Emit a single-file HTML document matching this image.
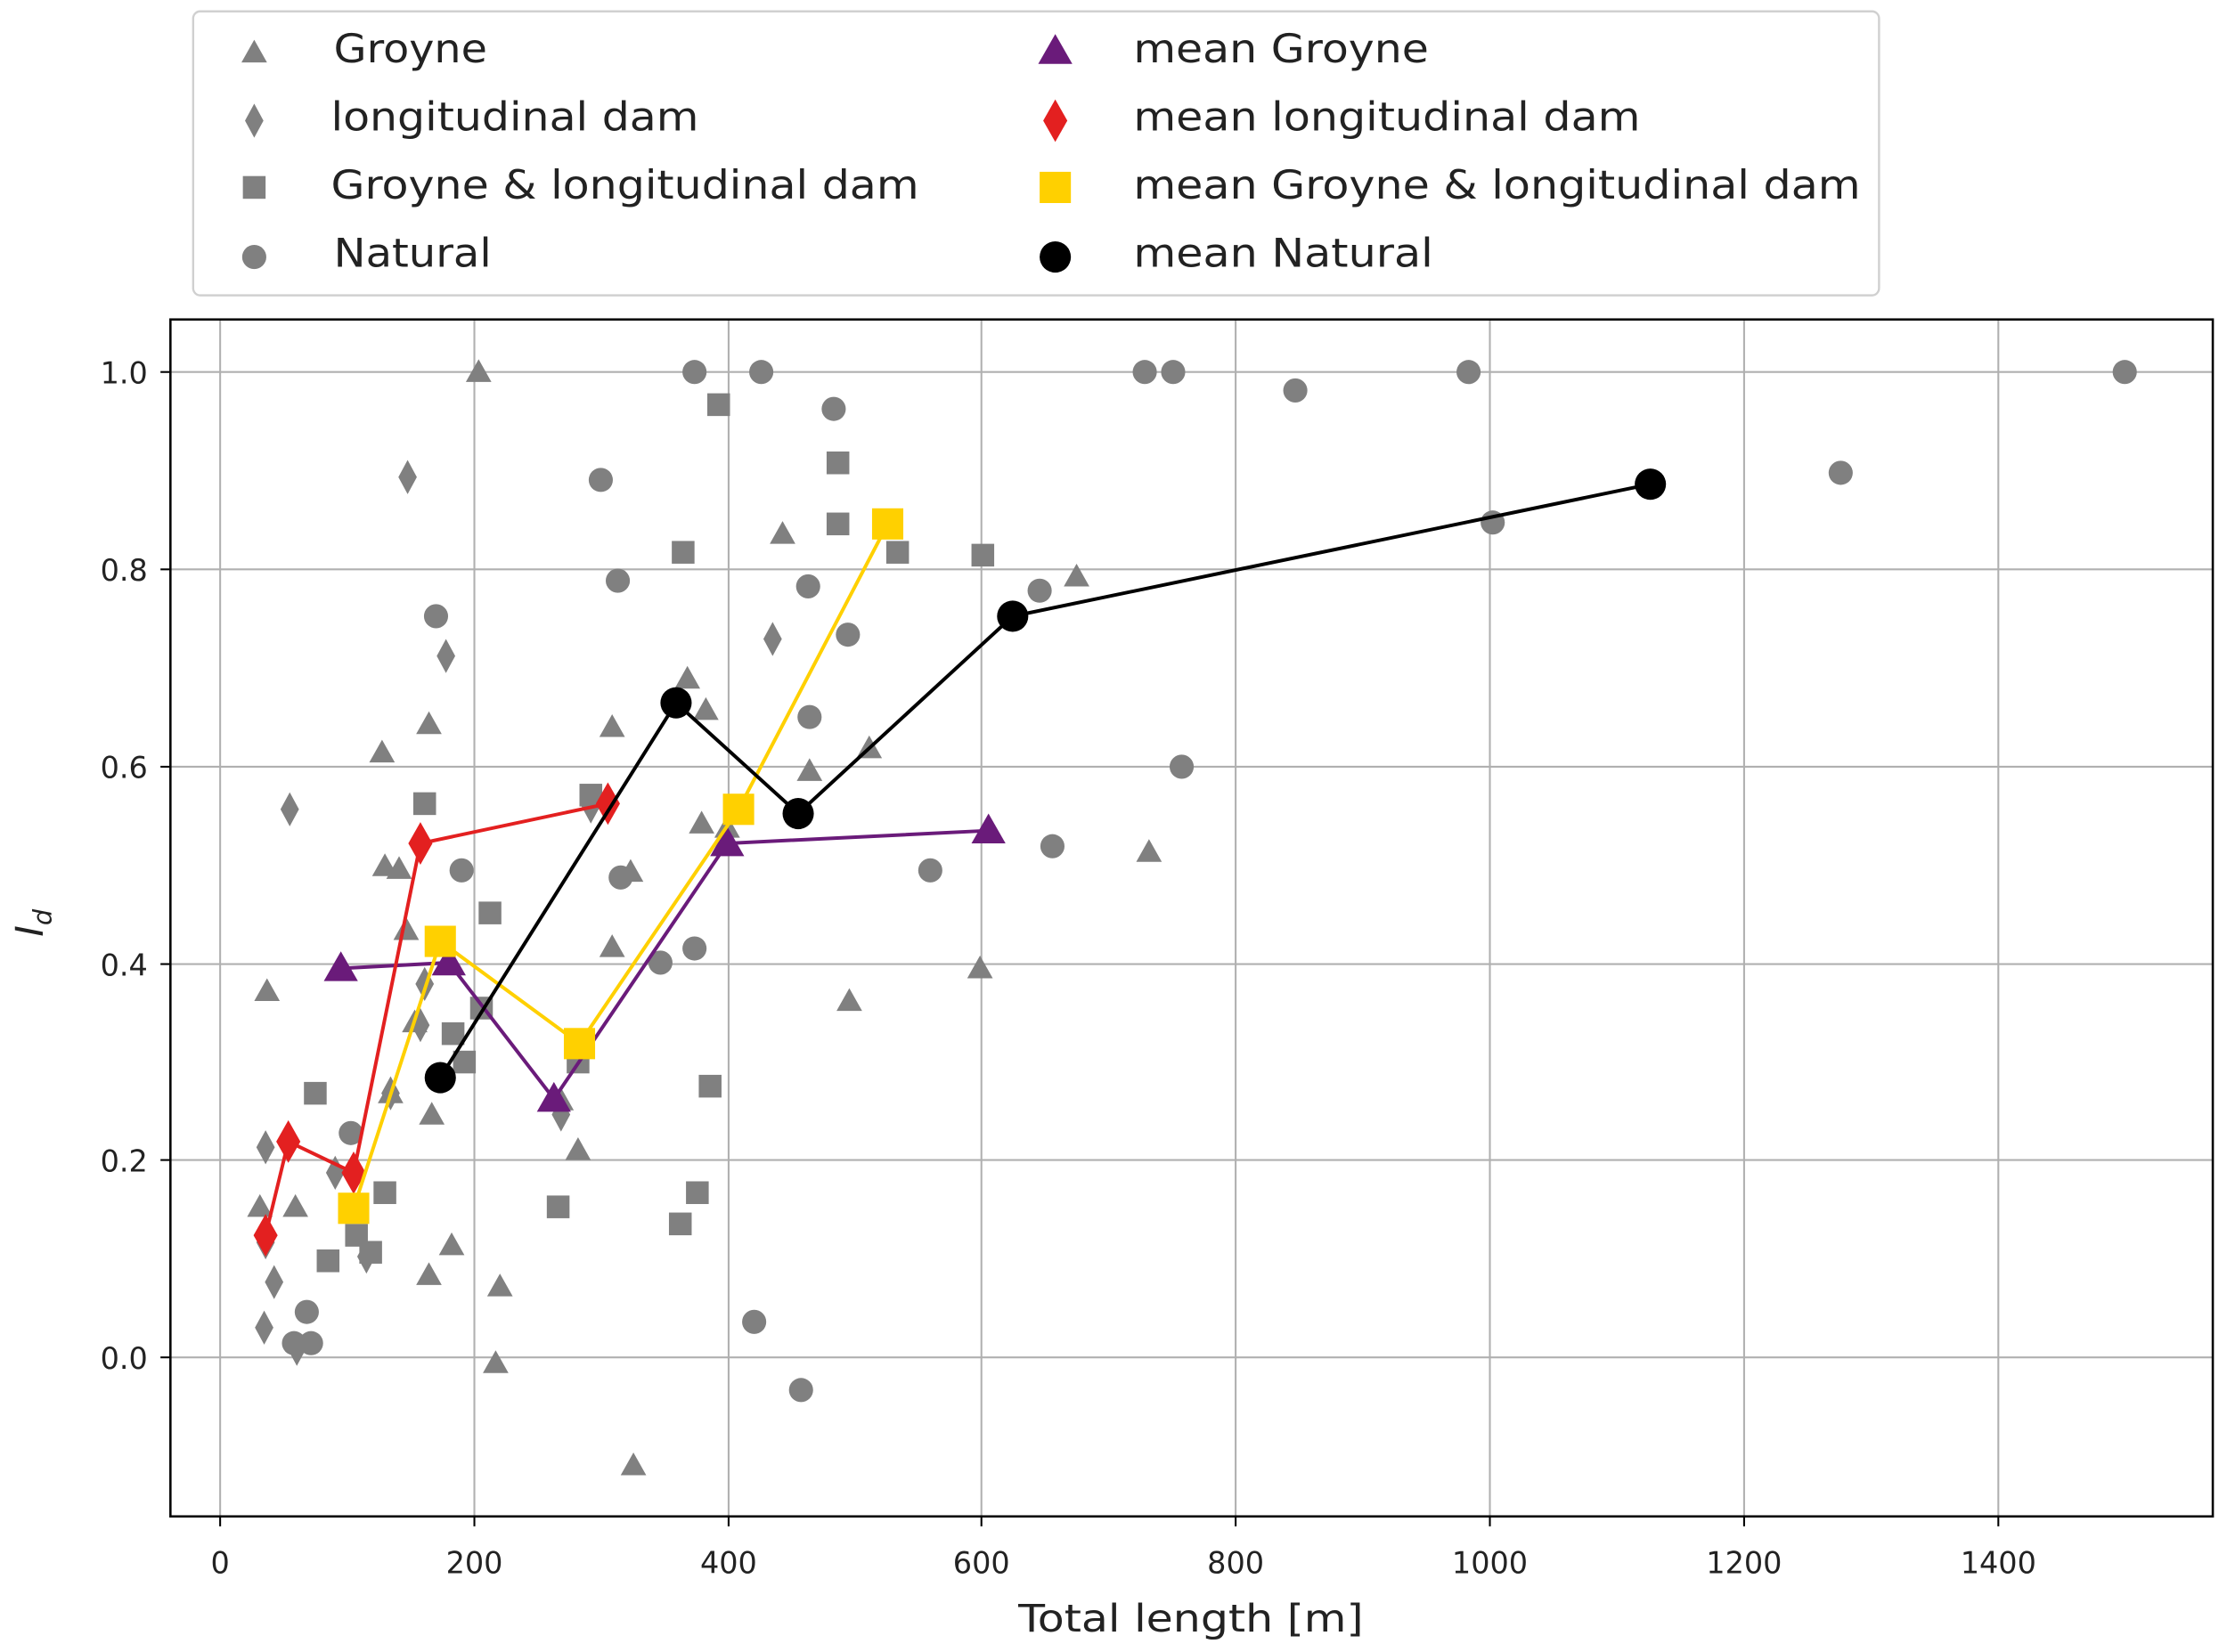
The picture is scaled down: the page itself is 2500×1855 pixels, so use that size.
<!DOCTYPE html>
<html><head><meta charset="utf-8"><style>
html,body{margin:0;padding:0;background:#fff}
svg{display:block}
text{font-family:"DejaVu Sans","Liberation Sans",sans-serif;fill:#222}
</style></head><body>
<svg width="2500" height="1855" viewBox="0 0 1568 1163.5" preserveAspectRatio="none">
<defs>
<g id="tri"><polygon points="0,-9 9,7 -9,7"/></g>
<g id="dia"><polygon points="0,-12 6.5,0 0,12 -6.5,0"/></g>
<g id="sq"><rect x="-8" y="-8" width="16" height="16"/></g>
<g id="ci"><circle r="8.5"/></g>
<g id="Tri"><polygon points="0,-12 12,9 -12,9"/></g>
<g id="Dia"><polygon points="0,-15 8.5,0 0,15 -8.5,0"/></g>
<g id="Sq"><rect x="-11" y="-11" width="22" height="22"/></g>
<g id="Ci"><circle r="11"/></g>
</defs>
<g stroke="#b0b0b0" stroke-width="1.3">
<line x1="155" y1="225" x2="155" y2="1068"/><line x1="334" y1="225" x2="334" y2="1068"/>
<line x1="513" y1="225" x2="513" y2="1068"/><line x1="691" y1="225" x2="691" y2="1068"/>
<line x1="870" y1="225" x2="870" y2="1068"/><line x1="1049" y1="225" x2="1049" y2="1068"/>
<line x1="1228" y1="225" x2="1228" y2="1068"/><line x1="1407" y1="225" x2="1407" y2="1068"/>
<line x1="120" y1="262" x2="1558" y2="262"/><line x1="120" y1="401" x2="1558" y2="401"/>
<line x1="120" y1="540" x2="1558" y2="540"/><line x1="120" y1="679" x2="1558" y2="679"/>
<line x1="120" y1="817" x2="1558" y2="817"/><line x1="120" y1="956" x2="1558" y2="956"/>
</g>
<g fill="#808080">
<use href="#tri" x="337" y="262"/><use href="#tri" x="551" y="376"/><use href="#tri" x="758" y="406"/><use href="#tri" x="484" y="478"/><use href="#tri" x="302" y="510"/><use href="#tri" x="431" y="512"/><use href="#tri" x="269" y="530"/><use href="#tri" x="612" y="527"/><use href="#tri" x="570" y="543"/><use href="#tri" x="497" y="500"/><use href="#tri" x="444" y="614"/><use href="#tri" x="431" y="667"/><use href="#tri" x="809" y="600"/><use href="#tri" x="690" y="682"/><use href="#tri" x="598" y="705"/><use href="#tri" x="188" y="698"/><use href="#tri" x="286" y="655"/><use href="#tri" x="292" y="720"/><use href="#tri" x="275" y="770"/><use href="#tri" x="304" y="785"/><use href="#tri" x="407" y="810"/><use href="#tri" x="318" y="877"/><use href="#tri" x="302" y="898"/><use href="#tri" x="352" y="906"/><use href="#tri" x="349" y="960"/><use href="#tri" x="446" y="1032"/><use href="#tri" x="208" y="850"/><use href="#tri" x="183" y="850"/><use href="#tri" x="494" y="580"/><use href="#tri" x="281" y="612"/><use href="#tri" x="271" y="610"/><use href="#tri" x="395" y="775"/><use href="#tri" x="512" y="583"/>
<use href="#dia" x="287" y="336"/><use href="#dia" x="204" y="570"/><use href="#dia" x="314" y="462"/><use href="#dia" x="544" y="450"/><use href="#dia" x="187" y="808"/><use href="#dia" x="193" y="903"/><use href="#dia" x="186" y="935"/><use href="#dia" x="209" y="950"/><use href="#dia" x="258" y="885"/><use href="#dia" x="236" y="826"/><use href="#dia" x="296" y="722"/><use href="#dia" x="275" y="770"/><use href="#dia" x="395" y="785"/><use href="#dia" x="299" y="693"/><use href="#dia" x="416" y="568"/><use href="#dia" x="187" y="875"/>
<use href="#sq" x="506" y="285"/><use href="#sq" x="590" y="326"/><use href="#sq" x="481" y="389"/><use href="#sq" x="590" y="369"/><use href="#sq" x="632" y="389"/><use href="#sq" x="692" y="391"/><use href="#sq" x="299" y="566"/><use href="#sq" x="345" y="643"/><use href="#sq" x="319" y="728"/><use href="#sq" x="327" y="748"/><use href="#sq" x="416" y="560"/><use href="#sq" x="407" y="748"/><use href="#sq" x="222" y="770"/><use href="#sq" x="500" y="765"/><use href="#sq" x="271" y="840"/><use href="#sq" x="393" y="850"/><use href="#sq" x="491" y="840"/><use href="#sq" x="479" y="862"/><use href="#sq" x="231" y="888"/><use href="#sq" x="261" y="882"/><use href="#sq" x="251" y="870"/><use href="#sq" x="339" y="710"/>
<use href="#ci" x="489" y="262"/><use href="#ci" x="536" y="262"/><use href="#ci" x="587" y="288"/><use href="#ci" x="806" y="262"/><use href="#ci" x="826" y="262"/><use href="#ci" x="912" y="275"/><use href="#ci" x="1034" y="262"/><use href="#ci" x="1496" y="262"/><use href="#ci" x="1296" y="333"/><use href="#ci" x="423" y="338"/><use href="#ci" x="435" y="409"/><use href="#ci" x="569" y="413"/><use href="#ci" x="732" y="416"/><use href="#ci" x="307" y="434"/><use href="#ci" x="597" y="447"/><use href="#ci" x="570" y="505"/><use href="#ci" x="832" y="540"/><use href="#ci" x="325" y="613"/><use href="#ci" x="437" y="618"/><use href="#ci" x="741" y="596"/><use href="#ci" x="655" y="613"/><use href="#ci" x="465" y="678"/><use href="#ci" x="489" y="668"/><use href="#ci" x="247" y="798"/><use href="#ci" x="216" y="924"/><use href="#ci" x="219" y="946"/><use href="#ci" x="207" y="946"/><use href="#ci" x="531" y="931"/><use href="#ci" x="564" y="979"/><use href="#ci" x="1051" y="368"/>
</g>
<polyline points="240,682 316,678 390,774 512,594 696,585" fill="none" stroke="#6a1b7a" stroke-width="2.5"/>
<g fill="#6a1b7a"><use href="#Tri" x="240" y="682"/><use href="#Tri" x="316" y="678"/><use href="#Tri" x="390" y="774"/><use href="#Tri" x="512" y="594"/><use href="#Tri" x="696" y="585"/></g>
<polyline points="187,870 203,804 249,826 296,594 428,566" fill="none" stroke="#e32020" stroke-width="2.5"/>
<g fill="#e32020"><use href="#Dia" x="187" y="870"/><use href="#Dia" x="203" y="804"/><use href="#Dia" x="249" y="826"/><use href="#Dia" x="296" y="594"/><use href="#Dia" x="428" y="566"/></g>
<polyline points="249,851 310,663 408,735 520,570 625,369" fill="none" stroke="#ffd000" stroke-width="2.5"/>
<g fill="#ffd000"><use href="#Sq" x="249" y="851"/><use href="#Sq" x="310" y="663"/><use href="#Sq" x="408" y="735"/><use href="#Sq" x="520" y="570"/><use href="#Sq" x="625" y="369"/></g>
<polyline points="310,759 476,495 562,573 713,434 1162,341" fill="none" stroke="#000" stroke-width="2.5"/>
<g fill="#000"><use href="#Ci" x="310" y="759"/><use href="#Ci" x="476" y="495"/><use href="#Ci" x="562" y="573"/><use href="#Ci" x="713" y="434"/><use href="#Ci" x="1162" y="341"/></g>
<rect x="120" y="225" width="1438" height="843" fill="none" stroke="#000" stroke-width="1.6"/>
<g stroke="#000" stroke-width="1.3">
<line x1="155" y1="1068" x2="155" y2="1075"/><line x1="334" y1="1068" x2="334" y2="1075"/><line x1="513" y1="1068" x2="513" y2="1075"/><line x1="691" y1="1068" x2="691" y2="1075"/><line x1="870" y1="1068" x2="870" y2="1075"/><line x1="1049" y1="1068" x2="1049" y2="1075"/><line x1="1228" y1="1068" x2="1228" y2="1075"/><line x1="1407" y1="1068" x2="1407" y2="1075"/>
<line x1="113" y1="262" x2="120" y2="262"/><line x1="113" y1="401" x2="120" y2="401"/><line x1="113" y1="540" x2="120" y2="540"/><line x1="113" y1="679" x2="120" y2="679"/><line x1="113" y1="817" x2="120" y2="817"/><line x1="113" y1="956" x2="120" y2="956"/>
</g>
<g font-size="21" text-anchor="middle">
<text x="155" y="1108">0</text><text x="334" y="1108">200</text><text x="513" y="1108">400</text><text x="691" y="1108">600</text><text x="870" y="1108">800</text><text x="1049" y="1108">1000</text><text x="1228" y="1108">1200</text><text x="1407" y="1108">1400</text>
</g>
<g font-size="21" text-anchor="end">
<text x="104" y="270">1.0</text><text x="104" y="409">0.8</text><text x="104" y="548">0.6</text><text x="104" y="687">0.4</text><text x="104" y="825">0.2</text><text x="104" y="964">0.0</text>
</g>
<text x="717" y="1149" font-size="27" textLength="243" lengthAdjust="spacingAndGlyphs">Total length [m]</text>
<text transform="translate(30,650) rotate(-90)" font-size="27" font-style="italic" text-anchor="middle">I<tspan font-size="18" dy="6">d</tspan></text>
<rect x="136" y="8" width="1187" height="200" rx="5" fill="#fff" stroke="#d0d0d0" stroke-width="1.5"/>
<g fill="#808080"><use href="#tri" x="179" y="37"/><use href="#dia" x="179" y="85"/><use href="#sq" x="179" y="132"/><use href="#ci" x="179" y="181"/></g>
<use href="#Tri" x="743" y="36" fill="#6a1b7a"/><use href="#Dia" x="743" y="85" fill="#e32020"/><use href="#Sq" x="743" y="132" fill="#ffd000"/><use href="#Ci" x="743" y="181" fill="#000"/>
<g font-size="28" lengthAdjust="spacingAndGlyphs">
<text x="235" y="44" textLength="108" lengthAdjust="spacingAndGlyphs">Groyne</text>
<text x="233" y="92" textLength="259" lengthAdjust="spacingAndGlyphs">longitudinal dam</text>
<text x="233" y="140" textLength="414" lengthAdjust="spacingAndGlyphs">Groyne &amp; longitudinal dam</text>
<text x="235" y="188" textLength="111" lengthAdjust="spacingAndGlyphs">Natural</text>
<text x="798" y="44" textLength="208" lengthAdjust="spacingAndGlyphs">mean Groyne</text>
<text x="798" y="92" textLength="357" lengthAdjust="spacingAndGlyphs">mean longitudinal dam</text>
<text x="798" y="140" textLength="512" lengthAdjust="spacingAndGlyphs">mean Groyne &amp; longitudinal dam</text>
<text x="798" y="188" textLength="211" lengthAdjust="spacingAndGlyphs">mean Natural</text>
</g>
</svg>
</body></html>
